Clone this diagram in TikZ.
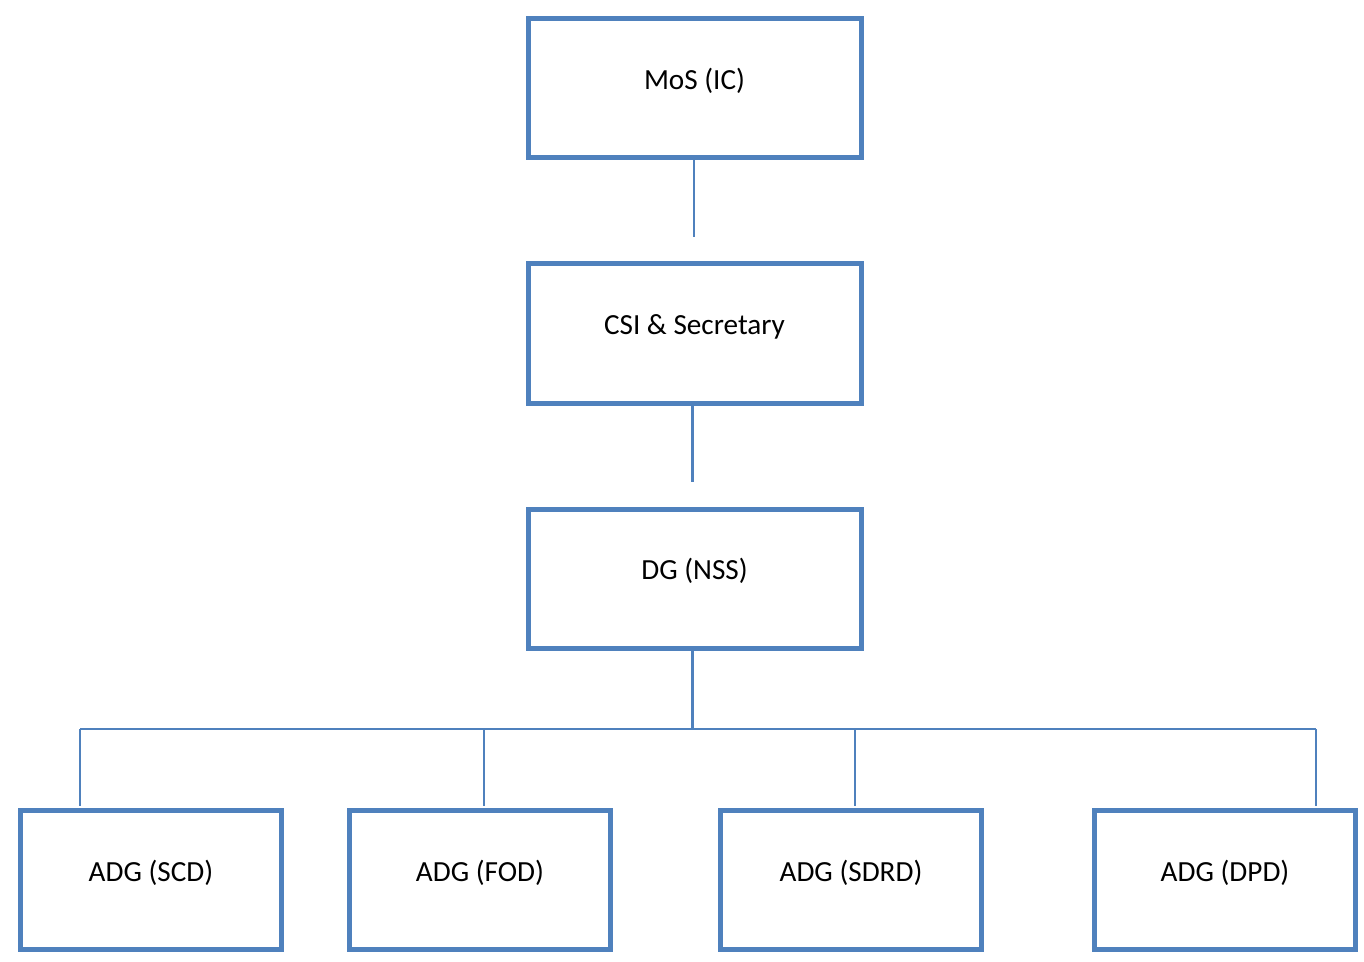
\documentclass[tikz,border=0pt]{standalone}
\usepackage{fontspec}
\setmainfont{Carlito}
\definecolor{boxblue}{HTML}{4F81BD}
\begin{document}
\begin{tikzpicture}[x=0.5pt,y=-0.5pt,
  orgbox/.style={draw=boxblue, line width=2.5pt, fill=white, rectangle,
    inner sep=0pt, text height=9pt, text depth=8pt,
    font=\fontsize{14.6pt}{17pt}\selectfont, text=black},
  topbox/.style={orgbox, minimum width=166.5pt, minimum height=69.5pt},
  lowbox/.style={orgbox, minimum width=130.5pt, minimum height=69.5pt},
  link/.style={draw=boxblue, line width=1.2pt}]
\useasboundingbox (0,0) rectangle (1364,962);
% boxes
\node[topbox] (mos) at (694.5,88.5) {MoS (IC)};
\node[topbox] (csi) at (694.5,333.5) {CSI \& Secretary};
\node[topbox] (dg)  at (694.5,578.5) {DG (NSS)};
\node[lowbox] (scd)  at (151,880) {ADG (SCD)};
\node[lowbox] (fod)  at (480,880) {ADG (FOD)};
\node[lowbox] (sdrd) at (851,880) {ADG (SDRD)};
\node[lowbox] (dpd)  at (1225,880) {ADG (DPD)};
% free ends
\coordinate (e1) at (694,237);
\coordinate (e2) at (692.5,482);
\coordinate (bus) at (692.5,729);
\coordinate (b1) at (80,729);
\coordinate (b2) at (484,729);
\coordinate (b3) at (855,729);
\coordinate (b4) at (1316,729);
\coordinate (t1) at (80,806);
\coordinate (t2) at (484,806);
\coordinate (t3) at (855,806);
\coordinate (t4) at (1316,806);
% connectors
\draw[link] (mos.south -| e1) -- (e1);
\draw[link] (csi.south -| e2) -- (e2);
\draw[link] (dg.south -| bus) -- (bus);
\draw[link] (b1) -- (b4);
\draw[link] (b1) -- (t1);
\draw[link] (b2) -- (t2);
\draw[link] (b3) -- (t3);
\draw[link] (b4) -- (t4);
\end{tikzpicture}
\end{document}
